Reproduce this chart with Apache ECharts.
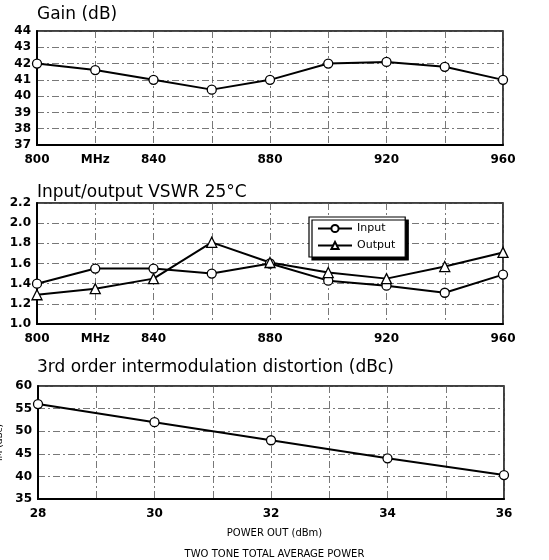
<!DOCTYPE html>
<html>
<head>
<meta charset="utf-8">
<script src="https://cdn.jsdelivr.net/npm/echarts@6/dist/echarts.min.js"></script>
<style>html,body{margin:0;padding:0;background:#fff}#c{width:549px;height:560px}</style>
</head>
<body>
<div id="c"></div>
<script>
var freqs = [800, 820, 840, 860, 880, 900, 920, 940, 960];
var gainDb = [42.0, 41.6, 41.0, 40.4, 41.0, 42.0, 42.1, 41.8, 41.0];
var vswrInput = [1.40, 1.55, 1.55, 1.50, 1.60, 1.43, 1.38, 1.31, 1.49];
var vswrOutput = [1.29, 1.35, 1.45, 1.81, 1.61, 1.51, 1.45, 1.57, 1.71];
var powerOut = [28, 30, 32, 34, 36];
var imDbc = [56, 52, 48, 44, 40.3];
var freqTickLabels = {800: '800', 820: 'MHz', 840: '840', 880: '880', 920: '920', 960: '960'};

function pairs(xs, ys) { return xs.map(function (x, i) { return [x, ys[i]]; }); }

var font = 'DejaVu Sans';
var grid = { type: [7, 3, 2, 3], color: '#555', width: 0.8 };
function xAx(idx, min, max, interval, fmt) {
  return {
    type: 'value', gridIndex: idx, min: min, max: max, interval: interval,
    axisLine: { show: true, lineStyle: { color: '#000', width: 2 } },
    axisTick: { show: false },
    splitLine: { show: true, lineStyle: grid },
    axisLabel: { color: '#000', fontFamily: font, fontWeight: 'bold', fontSize: 12, margin: 9, formatter: fmt }
  };
}
function yAx(idx, min, max, interval, fmt) {
  return {
    type: 'value', gridIndex: idx, min: min, max: max, interval: interval,
    axisLine: { show: true, lineStyle: { color: '#000', width: 2 } },
    axisTick: { show: false },
    splitLine: { show: true, lineStyle: grid },
    axisLabel: { color: '#000', fontFamily: font, fontWeight: 'bold', fontSize: 12, margin: 6, formatter: fmt }
  };
}
var freqFmt = function (v) { return freqTickLabels[v] !== undefined ? freqTickLabels[v] : ''; };
var mk = { symbol: 'circle', symbolSize: 9, itemStyle: { color: '#fff', borderColor: '#000', borderWidth: 1.3 }, lineStyle: { color: '#000', width: 2 } };
var tStyle = { fontFamily: font, fontSize: 17, fontWeight: 'normal', color: '#000' };

var chart = echarts.init(document.getElementById('c'));
chart.setOption({
  animation: false,
  backgroundColor: '#fff',
  title: [
    { text: 'Gain (dB)', left: 37, top: 6, padding: 0, textStyle: tStyle },
    { text: 'Input/output VSWR 25°C', left: 37, top: 184, padding: 0, textStyle: tStyle },
    { text: '3rd order intermodulation distortion (dBc)', left: 37, top: 359, padding: 0, textStyle: tStyle },
    { text: 'POWER OUT (dBm)', left: 'center', top: 528, padding: 0, textStyle: { fontFamily: font, fontSize: 10, fontWeight: 'normal', color: '#000' } },
    { text: 'TWO TONE TOTAL AVERAGE POWER', left: 'center', top: 549, padding: 0, textStyle: { fontFamily: font, fontSize: 10, fontWeight: 'normal', color: '#000' } }
  ],
  grid: [
    { left: 37, right: 46, top: 31, height: 114, show: true, borderColor: '#000', borderWidth: 1.5, outerBoundsMode: 'none' },
    { left: 37, right: 46, top: 203, height: 121, show: true, borderColor: '#000', borderWidth: 1.5, outerBoundsMode: 'none' },
    { left: 38, right: 45, top: 386, height: 113, show: true, borderColor: '#000', borderWidth: 1.5, outerBoundsMode: 'none' }
  ],
  xAxis: [
    xAx(0, 800, 960, 20, freqFmt),
    xAx(1, 800, 960, 20, freqFmt),
    xAx(2, 28, 36, 1, function (v) { return v % 2 === 0 ? String(v) : ''; })
  ],
  yAxis: [
    yAx(0, 37, 44, 1),
    yAx(1, 1.0, 2.2, 0.2, function (v) { return v.toFixed(1); }),
    Object.assign(yAx(2, 35, 60, 5), { name: 'IM (dBc)', nameLocation: 'middle', nameGap: 28, nameTextStyle: { fontFamily: font, fontSize: 9, color: '#000' } })
  ],
  legend: {
    data: ['Input', 'Output'], orient: 'vertical', left: 309, top: 217,
    itemWidth: 34, itemHeight: 9, itemGap: 6,
    padding: [6, 10, 6, 8],
    backgroundColor: '#fff', borderColor: '#000', borderWidth: 1.2,
    shadowColor: '#000', shadowOffsetX: 3, shadowOffsetY: 3, shadowBlur: 0,
    textStyle: { fontFamily: font, fontSize: 11, color: '#000' }
  },
  series: [
    Object.assign({ type: 'line', name: 'Gain', xAxisIndex: 0, yAxisIndex: 0, data: pairs(freqs, gainDb) }, mk),
    Object.assign({ type: 'line', name: 'Input', xAxisIndex: 1, yAxisIndex: 1, data: pairs(freqs, vswrInput) }, mk),
    Object.assign({ type: 'line', name: 'Output', xAxisIndex: 1, yAxisIndex: 1, data: pairs(freqs, vswrOutput) }, mk, { symbol: 'triangle', symbolSize: 10 }),
    Object.assign({ type: 'line', name: 'IM', xAxisIndex: 2, yAxisIndex: 2, data: pairs(powerOut, imDbc) }, mk)
  ]
});
</script>
</body>
</html>
